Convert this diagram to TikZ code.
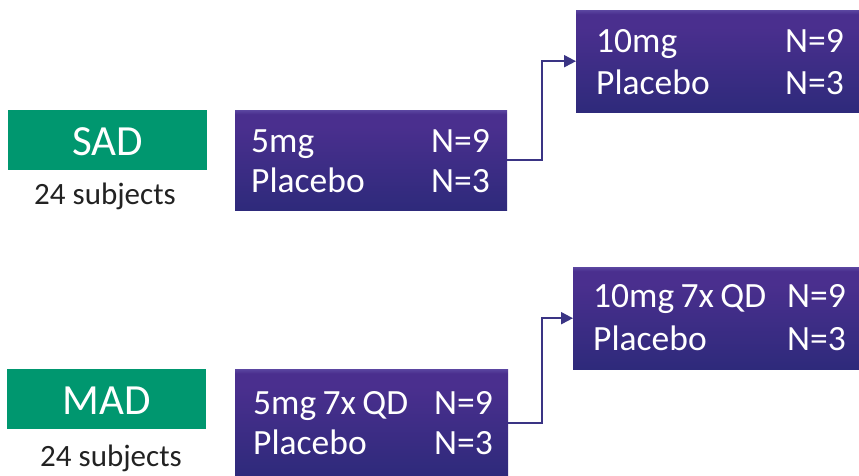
\documentclass[tikz,border=0pt]{standalone}
\usepackage{fontspec}
\setmainfont{Carlito}
\newfontfamily\dosefont[WordSpace=0.8]{Carlito}
\usetikzlibrary{arrows.meta}

\definecolor{armgreen}{HTML}{00976F}
\definecolor{cohorttop}{HTML}{5A45A0}
\definecolor{cohortmid}{HTML}{4A2F8E}
\definecolor{cohortbot}{HTML}{2E2A7B}
\definecolor{linkcol}{HTML}{3A3484}
\definecolor{subjtext}{HTML}{222222}

% vertical fade for the dose boxes (inner 25bp..75bp band maps onto the box)
\pgfdeclareverticalshading{cohortshade}{100bp}{%
  color(0bp)=(cohortbot); color(25bp)=(cohortbot);
  color(67bp)=(cohortmid); color(73bp)=(cohortmid);
  color(75bp)=(cohorttop); color(100bp)=(cohorttop)}

\tikzset{
  armbox/.style={fill=armgreen, inner sep=0pt},
  armlabel/.style={text=white, inner sep=0pt, anchor=base,
    font=\fontsize{43}{43}\selectfont},
  subjects/.style={text=subjtext, inner sep=0pt, anchor=base,
    font=\fontsize{31}{31}\selectfont},
  cohort/.style={shading=cohortshade, inner sep=0pt},
  dosetext/.style={text=white, inner sep=0pt, anchor=base west,
    font=\dosefont\fontsize{35.5}{35.5}\selectfont},
  ntext/.style={text=white, inner sep=0pt, anchor=base east,
    font=\dosefont\fontsize{35.5}{35.5}\selectfont},
  link/.style={draw=linkcol, line width=2pt,
    -{Triangle[length=12pt,width=12pt]}},
}

\begin{document}
\begin{tikzpicture}[x=1pt,y=-1pt]
\useasboundingbox (0,0) rectangle (859,476);

% study arms
\node[armbox, minimum width=199pt, minimum height=60pt, anchor=north west] (sad) at (8,110) {};
\node[armlabel] (sadlbl) at (107.5,155) {SAD};
\node[subjects] (sadsubj) at (105,204) {24 subjects};

\node[armbox, minimum width=199pt, minimum height=60pt, anchor=north west] (mad) at (7,369) {};
\node[armlabel] (madlbl) at (106.5,414) {MAD};
\node[subjects] (madsubj) at (111,466) {24 subjects};

% SAD cohorts
\node[cohort, minimum width=272pt, minimum height=100pt, anchor=north west] (sad5) at (235,110) {};
\node[dosetext] (sad5a) at (251,152) {5mg};
\node[ntext] (sad5an) at (490,152) {N=9};
\node[dosetext] (sad5b) at (251,192) {Placebo};
\node[ntext] (sad5bn) at (490,192) {N=3};

\node[cohort, minimum width=283pt, minimum height=102pt, anchor=north west] (sad10) at (576,10) {};
\node[dosetext] (sad10a) at (596,53) {10mg};
\node[ntext] (sad10an) at (844,53) {N=9};
\node[dosetext] (sad10b) at (596,95) {Placebo};
\node[ntext] (sad10bn) at (844,95) {N=3};

% MAD cohorts
\node[cohort, minimum width=273pt, minimum height=107pt, anchor=north west] (mad5) at (235,369) {};
\node[dosetext] (mad5a) at (253,414) {5mg 7x QD};
\node[ntext] (mad5an) at (493,414) {N=9};
\node[dosetext] (mad5b) at (253,454) {Placebo};
\node[ntext] (mad5bn) at (493,454) {N=3};

\node[cohort, minimum width=286pt, minimum height=102pt, anchor=north west] (mad10) at (573,267) {};
\node[dosetext] (mad10a) at (593,307) {10mg 7x QD};
\node[ntext] (mad10an) at (846,307) {N=9};
\node[dosetext] (mad10b) at (593,350) {Placebo};
\node[ntext] (mad10bn) at (846,350) {N=3};

% dose escalation links
\draw[link] (sad5.east) -- ++(35,0) |- (sad10.west);
\draw[link] (mad5.east) -- ++(34,0) |- (mad10.west);
\end{tikzpicture}
\end{document}
